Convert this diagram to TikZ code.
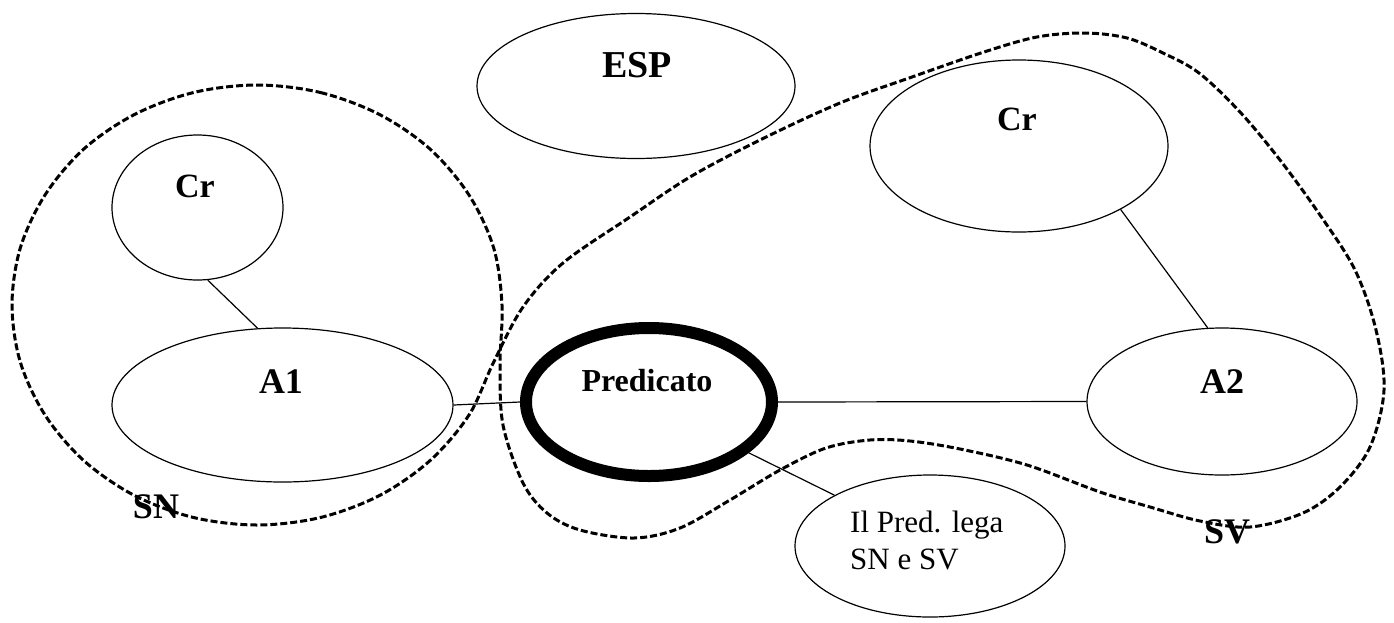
\documentclass[tikz,border=0pt]{standalone}
\usepackage{fontspec}
\setmainfont{Liberation Serif}
\usetikzlibrary{shapes.geometric}
\begin{document}
\begin{tikzpicture}[x=1pt,y=-1pt,
  ell/.style={draw, ellipse, line width=1.2pt, inner sep=0pt},
  lbl/.style={anchor=base, inner sep=0pt, font=\fontsize{36}{40}\selectfont\bfseries},
  conn/.style={line width=1.2pt},
  grp/.style={line width=3pt, dash pattern=on 7pt off 3pt}]
\useasboundingbox (0,0) rectangle (1394,622);

% group outline (SN / SV), one self-crossing dashed loop
\draw[grp] plot[smooth cycle, tension=0.55] coordinates {
 (257,85) (320.4,92.5) (379.5,114.5) (430,149) (469,195) (493.7,248) (502,305)
 (500,365) (503,425) (523,483) (547,513) (580,530) (634,538) (680,528)
 (730,500) (780,470) (826,448) (870,440) (910,441) (960,449) (1027,465) (1100,492)
 (1150,507) (1200,521) (1250,527) (1303,513) (1340,487) (1370,447) (1384,390)
 (1376,330) (1355,270) (1320,215) (1280,160) (1240,112) (1199,73) (1163,53)
 (1127,38) (1085,33) (1037,37) (984,52) (912,77) (840,103) (760,140) (690,177)
 (630,217) (563,263) (523,307) (493.7,362) (469,415) (430,460.6) (379.5,495.5)
 (320.4,517.5) (257,525) (193.6,517.5) (134.5,495.5) (83.8,460.6) (45,415)
 (20.3,362) (12,305) (20.3,248) (45,195) (83.8,149) (134.5,114.5) (193.6,92.5)};

% ellipses
\node[ell, minimum width=318pt, minimum height=145pt] (esp) at (636,86) {};
\node[ell, minimum width=171pt, minimum height=145pt] (crL) at (197.5,207.5) {};
\node[ell, minimum width=341pt, minimum height=154pt] (a1) at (282.5,405) {};
\node[ell, line width=12pt, minimum width=246pt, minimum height=148pt] (pred) at (649,402) {};
\node[ell, minimum width=270pt, minimum height=147pt] (a2) at (1222,401.5) {};
\node[ell, minimum width=298pt, minimum height=172pt] (crR) at (1019,146) {};
\node[ell, minimum width=270pt, minimum height=142pt] (note) at (930,546) {};

% labels
\node[lbl, font=\fontsize{38}{42}\selectfont\bfseries] (tEsp) at (637,77) {ESP};
\node[lbl, font=\fontsize{34}{40}\selectfont\bfseries] (tCrL) at (195,197) {Cr};
\node[lbl] (tA1) at (281,393) {A1};
\node[lbl, font=\fontsize{32}{38}\selectfont\bfseries] (tPred) at (647,391) {Predicato};
\node[lbl] (tA2) at (1222,393) {A2};
\node[lbl, font=\fontsize{34}{40}\selectfont\bfseries] (tCrR) at (1017,130) {Cr};
\node[anchor=north west, inner sep=0pt, align=left, font=\fontsize{31}{37}\selectfont] (tNote) at (850,511) {Il Pred. lega\\SN e SV};
\node[lbl] (tSN) at (156,518) {SN};
\node[lbl] (tSV) at (1227,543) {SV};

% connectors
\draw[conn] (crL.-82) -- (a1.108);
\draw[conn] (a1.east) -- (pred.west);
\draw[conn] (pred.east) -- (a2.west);
\draw[conn] (pred.-27) -- (note.152);
\draw[conn] (crR.-32) -- (a2.101);
\end{tikzpicture}
\end{document}
